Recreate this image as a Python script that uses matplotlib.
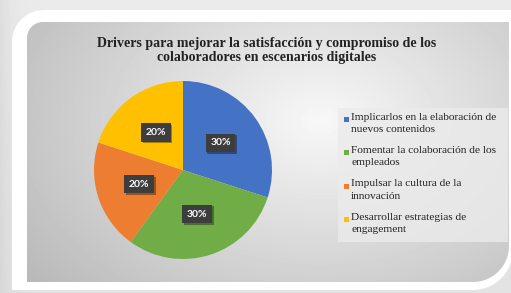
import numpy as np
import matplotlib.pyplot as plt
import matplotlib.patheffects as pe
from matplotlib.patches import Polygon, Rectangle

title = "Drivers para mejorar la satisfacción y compromiso de los\ncolaboradores en escenarios digitales"
labels = ["Implicarlos en la elaboración de\nnuevos contenidos",
          "Fomentar la colaboración de los\nempleados",
          "Impulsar la cultura de la\ninnovación",
          "Desarrollar estrategias de\nengagement"]
values = [30, 30, 20, 20]
colors = ["#4472C4", "#70AD47", "#ED7D31", "#FFC000"]

W, H = 511, 293


def rrect(x0, y0, x1, y1, r_tl, r_br):
    # rectangle (y down) with rounded top-left and bottom-right corners
    pts = []
    t = np.linspace(np.pi, 1.5 * np.pi, 20)
    pts += list(zip(x0 + r_tl + r_tl * np.cos(t), y0 + r_tl + r_tl * np.sin(t)))
    pts += [(x1, y0)]
    t = np.linspace(0, 0.5 * np.pi, 20)
    pts += list(zip(x1 - r_br + r_br * np.cos(t), y1 - r_br + r_br * np.sin(t)))
    pts += [(x0, y1)]
    return pts


fig = plt.figure(figsize=(W / 100, H / 100), dpi=100)

# background / frame
bg = fig.add_axes([0, 0, 1, 1])
bg.set_xlim(0, W)
bg.set_ylim(H, 0)
bg.axis("off")
yy, xx = np.mgrid[0:H, 0:W]
outer = 0.92 - 0.03 * (yy / H) - 0.05 * np.exp(-xx / 12)
bg.imshow(outer, cmap="gray", vmin=0, vmax=1, extent=(0, W, H, 0), zorder=0)

bg.add_patch(Polygon(rrect(12, 10, W + 2, 290, 32, 40), closed=True,
                     fc="white", ec="none", zorder=1))

panel = Polygon(rrect(27, 22, 509, 282, 16, 36), closed=True, fc="none", ec="none", zorder=2)
bg.add_patch(panel)
d = np.hypot((xx - 320) / 330, (yy - 120) / 230)
grad = 0.97 - 0.22 * np.clip(d, 0, 1.3)
im = bg.imshow(grad, cmap="gray", vmin=0, vmax=1, extent=(0, W, H, 0), zorder=2)
im.set_clip_path(panel)

# title
bg.text(267, 50, title, ha="center", va="center", fontsize=10, zorder=5,
        fontweight="bold", family="Liberation Serif", color="#222222", linespacing=1.1)

# legend, drawn by hand
bg.add_patch(Rectangle((338, 108), 170, 134, fc="#ebebeb", ec="none", alpha=0.8, zorder=3))
for i, (lab, c) in enumerate(zip(labels, colors)):
    y = 119 + i * 33.5
    bg.add_patch(Rectangle((344, y - 2.5), 5, 5, fc=c, ec="none", zorder=4))
    bg.text(351, y - 6.5, lab, ha="left", va="top", fontsize=8.2, family="Liberation Serif",
            color="#222222", linespacing=1.45, zorder=4)

# pie
cx, cy, r = 183, 170, 89
ax = fig.add_axes([(cx - r) / W, (H - cy - r) / H, 2 * r / W, 2 * r / H])
ax.set_facecolor("none")
wedges, texts, autotexts = ax.pie(values, colors=colors, startangle=90, counterclock=False,
                                  autopct="%d%%", pctdistance=0.52,
                                  wedgeprops=dict(linewidth=0))
for t in autotexts:
    t.set_color("white")
    t.set_fontsize(7.5)
    t.set_fontweight("bold")
    t.set_family("Lato")
    t.set_bbox(dict(boxstyle="square,pad=0.45", fc="#3d3d3d", ec="none"))
    t.get_bbox_patch().set_path_effects([
        pe.SimplePatchShadow(offset=(1.2, -1.2), shadow_rgbFace="black", alpha=0.35),
        pe.Normal()])
ax.set_xlim(-1, 1)
ax.set_ylim(-1, 1)

fig.savefig("out.png", dpi=100)
